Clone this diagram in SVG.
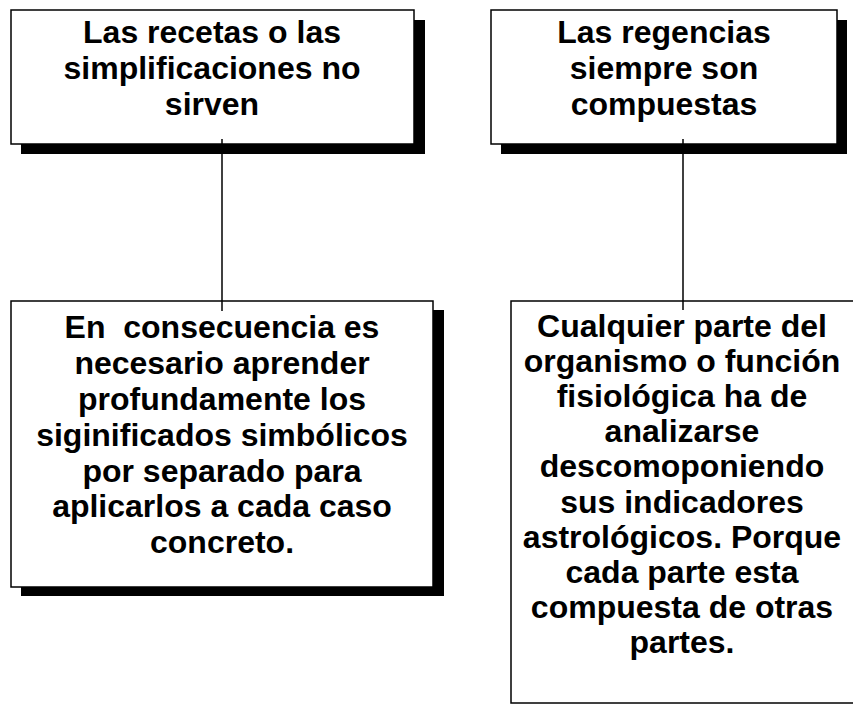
<svg xmlns="http://www.w3.org/2000/svg" width="853" height="705" viewBox="0 0 853 705">
<style>
.box{fill:#fff;stroke:#000;stroke-width:1.5}
.shadow{fill:#000}
.t{font-family:"Liberation Sans",Arial,sans-serif;font-weight:bold;font-size:32px;text-anchor:middle;fill:#000;white-space:pre}
.conn{stroke:#000;stroke-width:1.5;fill:none}
</style>
<rect width="853" height="705" fill="#fff"/>
<g id="node1">
<rect class="shadow" x="21" y="20" width="404" height="134"/>
<rect class="box" x="11" y="10" width="403" height="134"/>
<text class="t" x="212" y="43">Las recetas o las</text>
<text class="t" x="212" y="79">simplificaciones no</text>
<text class="t" x="212" y="115">sirven</text>
</g>
<g id="node2">
<rect class="shadow" x="501" y="20" width="346" height="134"/>
<rect class="box" x="491" y="10" width="346" height="134"/>
<text class="t" x="664" y="43">Las regencias</text>
<text class="t" x="664" y="79">siempre son</text>
<text class="t" x="664" y="115">compuestas</text>
</g>
<g id="node3">
<rect class="shadow" x="21" y="310" width="423" height="286"/>
<rect class="box" x="11" y="301" width="422" height="286"/>
<text class="t" x="222" y="338" xml:space="preserve">En  consecuencia es</text>
<text class="t" x="222" y="374">necesario aprender</text>
<text class="t" x="222" y="410">profundamente los</text>
<text class="t" x="222" y="446">siginificados simbólicos</text>
<text class="t" x="222" y="482">por separado para</text>
<text class="t" x="222" y="517">aplicarlos a cada caso</text>
<text class="t" x="222" y="553">concreto.</text>
</g>
<g id="node4">
<rect class="box" x="511" y="301" width="352" height="402"/>
<text class="t" x="682" y="337">Cualquier parte del</text>
<text class="t" x="682" y="372">organismo o función</text>
<text class="t" x="682" y="407">fisiológica ha de</text>
<text class="t" x="682" y="442">analizarse</text>
<text class="t" x="682" y="477">descomoponiendo</text>
<text class="t" x="682" y="513">sus indicadores</text>
<text class="t" x="682" y="548">astrológicos. Porque</text>
<text class="t" x="682" y="583">cada parte esta</text>
<text class="t" x="682" y="618">compuesta de otras</text>
<text class="t" x="682" y="653">partes.</text>
</g>
<g id="connectors">
<line class="conn" x1="222" y1="139" x2="222" y2="311"/>
<line class="conn" x1="683" y1="139" x2="683" y2="310"/>
</g>
</svg>
